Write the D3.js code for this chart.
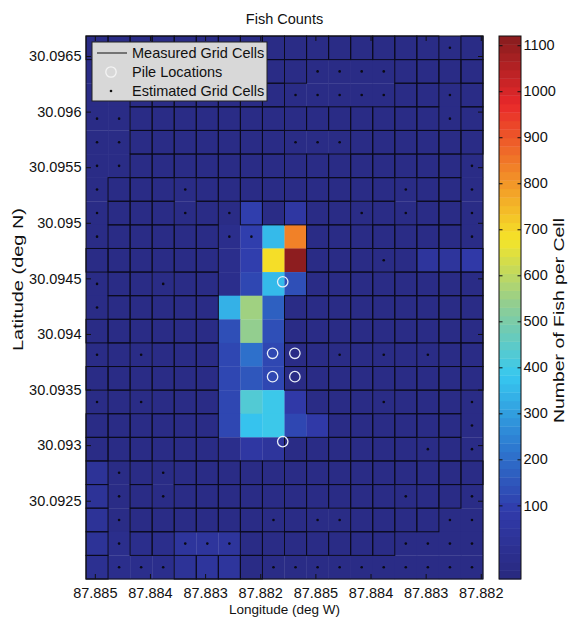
<!DOCTYPE html>
<html>
<head>
<meta charset="utf-8">
<script src="https://cdn.jsdelivr.net/npm/d3@7"></script>
<style>
  body { margin: 0; background: #fff; }
  text { font-family: "Liberation Sans", Arial, Helvetica, sans-serif; fill: #111; }
</style>
</head>
<body>
<svg id="chart" width="571" height="617"></svg>
<script>
// ---- data -------------------------------------------------------------
const title = "Fish Counts";
const nCols = 18, nRows = 23;

// Fish per cell, row 0 is the northern-most row, column 0 the western-most.
const fishCounts = [
  [-30,-30,-30,-30,-30,-30,-30,-30,-30,-30,-30,-30,-30,-30,-30,-30,-30,-30],
  [-30,-30,-30,-30,-30,-30,-30,-30,-30,-30,-30,-30,-30,-30,-30,-30,-30,-30],
  [-30,-30,-30,-30,-30,-30,-30,-30,-30,-30,-30,-30,-30,-30,-30,-30,-30,-30],
  [-30,-30,-30,-30,-30,-30,-30,-30,-30,-30,-30,-30,-30,-30,-30,-30,-30,-30],
  [-30,-30,-30,-30,-30,-30,-30,-30,-30,-30,-30,-30,-30,-30,-30,-30,-30,-30],
  [-30,-30,-30,-30,-30,-30,-30,-30,-30,-30,-30,-30,-30,-30,-30,-30,-30,-30],
  [-30,-30,-30,-30,-30,-30,-30,-30,-30,-30,-30,-30,-30,-30,-30,-30,-30,-30],
  [-30,-30,-30,-30,-30,-30,-30, 90,-30, 60,-30,-30,-30,-30,-30,-30,-30,-30],
  [-30,-30,-30,-30,-30,-30,-10, 90,360,830,-30,-30,-30,-30,-30,-30,-30,-30],
  [-30,-30,-30,-30,-30,-30,-10,100,695,1110,-30,-30,-30,-30,-30, 40, 40, 80],
  [-30,-30,-30,-30,-30,-30,-10,110,350,130,-30,-30,-30,-30,-30,-30,-30,-30],
  [-30,-30,-30,-30,-30,-30,330,560,170,-30,-30,-30,-30,-30,-30,-30,-30,-30],
  [-30,-30,-30,-30,-30,-30,130,540,140,-30,-30,-30,-30,-30,-30,-30,-30,-30],
  [-30,-30,-30,-30,-30,-30,120,200,120,-30,-30,-30,-30,-30,-30,-30,-30,-30],
  [-30,-30,-30,-30,-30,-30,110,150,120,-30,-30,-30,-30,-30,-30,-30,-30,-30],
  [-30,-30,-30,-30,-30,-30,110,430,400, 80,-30,-30,-30,-30,-30,-30,-30,-30],
  [-30,-30,-30,-30,-30,-30,110,370,390,110, 80,-30,-30,-30,-30,-30,-30,-30],
  [-30,-30,-30,-30,-30,-30,-10, 60, 50,-30,-30,-30,-30,-30,-30,-30,-30,-30],
  [ 30,-30,-30,-30,-30,-30,-30,-30,-30,-30,-30,-30,-30,-30,-30,-30,-30,-30],
  [ 30,-30,-30,-30,-30,-30,-30,-30,-30,-30,-30,-30,-30,-30,-30,-30,-30,-30],
  [ 30,-30,-30,-30,-30,-30,-30,-30,-30,-30,-30,-30,-30,-30,-30,-30,-30,-30],
  [ 30,-10,-10,-10, 40, 50, 50,-30,-30,-30,-30,-30,-30,-30,-30,-30,-30,-30],
  [ 10,-10,-10,-10, 30, 50, 50,-30,-30,-30,-30,-30,-30,-30,-30,-30,-30,-30]
];

// Cell type: M = measured (outlined), E = estimated (dot), N = no outline, no dot
const cellType = [
  "MMMMMMMMMMMMMMMMEM",
  "EEMMMMMMMMEEEEMMMM",
  "EEMMMMMMMEEEEEMMEM",
  "EEMMMMMMMMMMMMMMEM",
  "EEMMMMMMMEEEMMMMMM",
  "EEMMMMMMMMMMMMMMME",
  "EMMMEMMMMMMMMMEMME",
  "EMMMEMEMMMMMEMEMME",
  "EMMMMMEENNMMMMMMME",
  "MMMMMMNNNNMMMEMMMM",
  "EMMEMMNNNNMMMMMMMM",
  "EMMMMMNNNMMMMMMMMM",
  "MMMMMMNNNMMMMMMMMM",
  "EMEMMMNNNMMEMEMEMM",
  "MMMMMMNNNMMMMMMMMM",
  "EMEMMMNNNNMMMEMMME",
  "MMMMMMNNNNNMMMMMME",
  "MMMMMMNNNMMMMMMEME",
  "MEMEMMMMMMMMMMMMMM",
  "MEMEMMMMMMMMMMEMME",
  "MEMMMMMMEMEEMMMMEE",
  "MEMMEEEMMMMMMMEEEE",
  "MEEEMMMMEEEEEEEEEE"
];

// Pile locations in grid units (column, row)
const pileCol = [8.92, 8.46, 9.47, 8.46, 9.47, 8.92];
const pileRow = [10.41, 13.44, 13.44, 14.43, 14.43, 17.18];

const latTicks = [30.0965, 30.096, 30.0955, 30.095, 30.0945, 30.094, 30.0935, 30.093, 30.0925];
const lonTickLabels = ["87.885", "87.884", "87.883", "87.882", "87.885", "87.884", "87.883", "87.882"];
const colorTicks = [100, 200, 300, 400, 500, 600, 700, 800, 900, 1000, 1100];
const colorRange = [-60, 1120];
const latRange = [30.091796, 30.09668];

const legendItems = ["Measured Grid Cells", "Pile Locations", "Estimated Grid Cells"];

// jet colormap key colours as they come out in print (dark blue → dark red)
const jetStops = ["#29297e", "#303aaa", "#2d7dd2", "#37c8f0", "#8ccd96", "#f5e428", "#f28728", "#e8282a", "#871c1e"];

// ---- layout -----------------------------------------------------------
const plot = { left: 86, right: 483, top: 36, bottom: 579 };
const cbar = { left: 499, right: 521 };
const FONT = 14.5;

const svg = d3.select("#chart");

const x = d3.scaleLinear().domain([0, nCols]).range([plot.left, plot.right]);
const y = d3.scaleLinear().domain([0, nRows]).range([plot.top, plot.bottom]);
const yLat = d3.scaleLinear().domain(latRange).range([plot.bottom, plot.top]);

// 64-level colormap, like MATLAB's jet(64)
const nLevels = 64;
const tScale = d3.scaleLinear().domain(colorRange).range([0, 1]).clamp(true);
const jetInterp = d3.scaleLinear()
  .domain(d3.range(jetStops.length).map(i => i / (jetStops.length - 1)))
  .range(jetStops).interpolate(d3.interpolateRgb);
function colorOf(v) {
  const k = Math.min(nLevels - 1, Math.floor(tScale(v) * nLevels));
  return d3.rgb(jetInterp((k + 0.5) / nLevels)).formatHex();
}

// ---- title --------------------------------------------------------------
svg.append("text").attr("x", (plot.left + plot.right) / 2).attr("y", 24)
  .attr("text-anchor", "middle").style("font-size", FONT + "px").text(title);

// ---- cells --------------------------------------------------------------
const cells = [];
fishCounts.forEach((row, r) => row.forEach((v, c) => cells.push({ r, c, v, type: cellType[r][c] })));

const gPlot = svg.append("g");
gPlot.selectAll("rect.cell").data(cells).join("rect")
  .attr("class", "cell")
  .attr("x", d => x(d.c)).attr("y", d => y(d.r))
  .attr("width", x(1) - x(0) + 0.3).attr("height", y(1) - y(0) + 0.3)
  .attr("fill", d => colorOf(d.v));

gPlot.selectAll("rect.measured").data(cells.filter(d => d.type === "M")).join("rect")
  .attr("class", "measured")
  .attr("x", d => x(d.c)).attr("y", d => y(d.r))
  .attr("width", x(1) - x(0)).attr("height", y(1) - y(0))
  .attr("fill", "none").attr("stroke", "#0b0b1e").attr("stroke-width", 1);

gPlot.selectAll("circle.est").data(cells.filter(d => d.type === "E")).join("circle")
  .attr("class", "est")
  .attr("cx", d => x(d.c + 0.5)).attr("cy", d => y(d.r + 0.5))
  .attr("r", 1.3).attr("fill", "#0a0a14");

gPlot.selectAll("circle.pile").data(pileCol.map((c, i) => ({ c, r: pileRow[i] }))).join("circle")
  .attr("class", "pile")
  .attr("cx", d => x(d.c)).attr("cy", d => y(d.r))
  .attr("r", 5.2).attr("fill", "none").attr("stroke", "#e8eef8").attr("stroke-width", 1.3);

// ---- axes ---------------------------------------------------------------
const tickLen = 5;
const styleAxis = g => {
  g.select(".domain").remove();
  g.selectAll("text").style("font-size", FONT + "px")
    .style("font-family", "Liberation Sans, Arial, sans-serif").attr("fill", "#111");
  g.selectAll("line").attr("stroke", "#111");
};

svg.append("g").attr("transform", `translate(${plot.left},0)`)
  .call(d3.axisLeft(yLat).tickValues(latTicks).tickSizeInner(-tickLen).tickSizeOuter(0)
    .tickPadding(4.5).tickFormat(d => String(+d.toFixed(4))))
  .call(styleAxis);
svg.append("g").attr("transform", `translate(${plot.right},0)`)
  .call(d3.axisRight(yLat).tickValues(latTicks).tickSizeInner(-tickLen).tickSizeOuter(0).tickFormat(""))
  .call(styleAxis);

// longitude ticks every 2.5 cells, starting 0.4 cells in from the western edge
const lonPos = d3.scalePoint().domain(d3.range(lonTickLabels.length))
  .range([x(0.4), x(0.4 + 2.5 * (lonTickLabels.length - 1))]);
svg.append("g").attr("transform", `translate(0,${plot.bottom})`)
  .call(d3.axisBottom(lonPos).tickSizeInner(-tickLen).tickSizeOuter(0).tickPadding(8.7)
    .tickFormat(i => lonTickLabels[i]))
  .call(styleAxis);
svg.append("g").attr("transform", `translate(0,${plot.top})`)
  .call(d3.axisTop(lonPos).tickSizeInner(-tickLen).tickSizeOuter(0).tickFormat(""))
  .call(styleAxis);

svg.append("rect").attr("x", plot.left).attr("y", plot.top)
  .attr("width", plot.right - plot.left).attr("height", plot.bottom - plot.top)
  .attr("fill", "none").attr("stroke", "#111").attr("stroke-width", 1);

svg.append("text").attr("x", (plot.left + plot.right) / 2).attr("y", 614)
  .attr("text-anchor", "middle").style("font-size", "13.5px").text("Longitude (deg W)");
svg.append("text").attr("transform", `translate(23,279.5) rotate(-90)`)
  .attr("text-anchor", "middle").style("font-size", FONT + "px")
  .attr("textLength", 143).attr("lengthAdjust", "spacingAndGlyphs")
  .text("Latitude (deg N)");

// ---- legend -------------------------------------------------------------
const lg = svg.append("g").attr("transform", "translate(92,42)");
lg.append("rect").attr("width", 175).attr("height", 59)
  .attr("fill", "#d8d8d8").attr("stroke", "#222").attr("stroke-width", 1);
const rowY = d3.scalePoint().domain(d3.range(legendItems.length)).range([11, 49]);
lg.append("line").attr("x1", 5).attr("x2", 35).attr("y1", rowY(0)).attr("y2", rowY(0))
  .attr("stroke", "#111").attr("stroke-width", 1);
lg.append("circle").attr("cx", 19).attr("cy", rowY(1)).attr("r", 5.2)
  .attr("fill", "none").attr("stroke", "#f4f4f4").attr("stroke-width", 1.3);
lg.append("circle").attr("cx", 19).attr("cy", rowY(2)).attr("r", 1.3).attr("fill", "#111");
lg.selectAll("text.lab").data(legendItems).join("text").attr("class", "lab")
  .attr("x", 40).attr("y", (d, i) => rowY(i) + 5)
  .style("font-size", FONT + "px").text(d => d);

// ---- colorbar -----------------------------------------------------------
const yC = d3.scaleLinear().domain(colorRange).range([plot.bottom, plot.top]);
const bandH = (colorRange[1] - colorRange[0]) / nLevels;
const bands = d3.range(nLevels).map(k => colorRange[0] + bandH * k);
svg.append("g").selectAll("rect").data(bands).join("rect")
  .attr("x", cbar.left).attr("width", cbar.right - cbar.left)
  .attr("y", d => yC(d + bandH)).attr("height", d => yC(d) - yC(d + bandH) + 0.4)
  .attr("fill", d => colorOf(d + bandH / 2));

svg.append("g").attr("transform", `translate(${cbar.right},0)`)
  .call(d3.axisRight(yC).tickValues(colorTicks).tickSizeInner(-3.5).tickSizeOuter(0).tickPadding(2.5)
    .tickFormat(d3.format("d")))
  .call(styleAxis);
svg.append("g").attr("transform", `translate(${cbar.left},0)`)
  .call(d3.axisLeft(yC).tickValues(colorTicks).tickSizeInner(-3.5).tickSizeOuter(0).tickFormat(""))
  .call(styleAxis);
svg.append("rect").attr("x", cbar.left).attr("y", plot.top)
  .attr("width", cbar.right - cbar.left).attr("height", plot.bottom - plot.top)
  .attr("fill", "none").attr("stroke", "#111").attr("stroke-width", 1);

svg.append("text").attr("transform", `translate(563.5,320.5) rotate(-90)`)
  .attr("text-anchor", "middle").style("font-size", FONT + "px")
  .attr("textLength", 205).attr("lengthAdjust", "spacingAndGlyphs")
  .text("Number of Fish per Cell");
</script>
</body>
</html>
